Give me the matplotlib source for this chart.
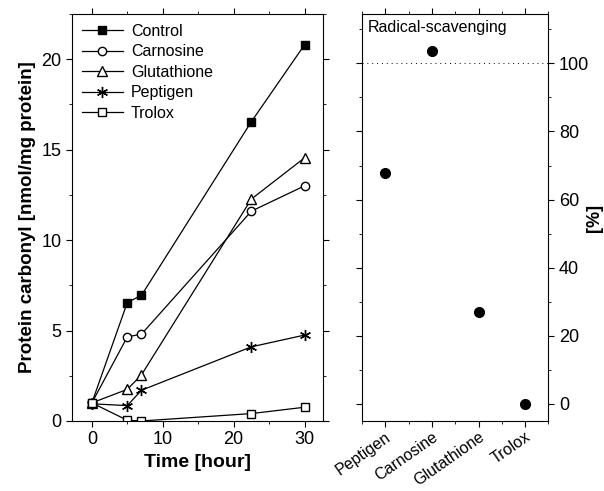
import matplotlib
matplotlib.use("Agg")
import matplotlib.pyplot as plt
from matplotlib.ticker import MultipleLocator

plt.rcParams['font.family'] = ['Liberation Sans', 'DejaVu Sans']

# time course (left panel)
hours = [0, 5, 7, 22.5, 30]
control = [1.0, 6.55, 6.95, 16.55, 20.8]
carnosine = [1.0, 4.65, 4.8, 11.6, 13.0]
glutathione = [1.0, 1.75, 2.55, 12.27, 14.55]
peptigen = [0.95, 0.85, 1.7, 4.1, 4.75]
trolox = [1.0, 0.04, 0.0, 0.41, 0.76]

# radical scavenging (right panel)
compounds = ['Peptigen', 'Carnosine', 'Glutathione', 'Trolox']
scavenging = [67.7, 103.6, 26.9, 0.0]

fig = plt.figure(figsize=(6.04, 4.91), dpi=100)
ax1 = fig.add_axes([0.1192, 0.1426, 0.4156, 0.8289])
ax2 = fig.add_axes([0.5993, 0.1426, 0.3088, 0.8289])

ms = 6
ax1.plot(hours, control, '-s', color='k', mfc='k', ms=ms, lw=0.9, label='Control')
ax1.plot(hours, carnosine, '-o', color='k', mfc='white', ms=ms, lw=0.9, label='Carnosine')
ax1.plot(hours, glutathione, '-^', color='k', mfc='white', ms=ms + 1, lw=0.9, label='Glutathione')
ax1.plot(hours, peptigen, '-', marker=(6, 2, 0), color='k', ms=ms + 2, mew=1.0, lw=0.9, label='Peptigen')
ax1.plot(hours, trolox, '-s', color='k', mfc='white', ms=ms, lw=0.9, label='Trolox')

ax1.set_xlim(-2.8, 32.6)
ax1.set_ylim(0, 22.5)
ax1.xaxis.set_major_locator(MultipleLocator(10))
ax1.xaxis.set_minor_locator(MultipleLocator(5))
ax1.yaxis.set_major_locator(MultipleLocator(5))
ax1.yaxis.set_minor_locator(MultipleLocator(2.5))
ax1.tick_params(which='both', direction='out', top=True, right=True, labelsize=13)
ax1.tick_params(which='major', length=4)
ax1.tick_params(which='minor', length=2.5)
ax1.set_xlabel('Time [hour]', fontsize=14, fontweight='bold')
ax1.set_ylabel('Protein carbonyl [nmol/mg protein]', fontsize=13.5, fontweight='bold')
ax1.legend(loc='upper left', frameon=False, fontsize=11.5, handlelength=2.6,
           borderaxespad=0.2, labelspacing=0.35, handletextpad=0.5)

xpos = list(range(len(compounds)))
ax2.plot(xpos, scavenging, 'o', color='k', ms=7)
ax2.axhline(100, color='k', ls=(0, (1, 4)), lw=0.7)
ax2.set_xlim(-0.5, 3.5)
ax2.set_ylim(-5, 114.5)
ax2.set_xticks(xpos)
ax2.set_xticklabels(compounds, rotation=35, ha='right', rotation_mode='anchor', fontsize=11.5)
ax2.xaxis.set_minor_locator(MultipleLocator(0.5))
ax2.yaxis.set_major_locator(MultipleLocator(20))
ax2.yaxis.set_minor_locator(MultipleLocator(10))
ax2.yaxis.tick_right()
ax2.yaxis.set_label_position('right')
ax2.tick_params(which='both', direction='out', top=True, left=True)
ax2.tick_params(axis='x', pad=2)
ax2.tick_params(axis='y', labelsize=13)
ax2.tick_params(which='major', length=4)
ax2.tick_params(which='minor', length=2.5)
ax2.set_ylabel('[%]', fontsize=13, fontweight='bold', labelpad=-2)
ax2.text(0.03, 0.985, 'Radical-scavenging', transform=ax2.transAxes,
         ha='left', va='top', fontsize=11.5)

fig.savefig('out.png', dpi=100)
